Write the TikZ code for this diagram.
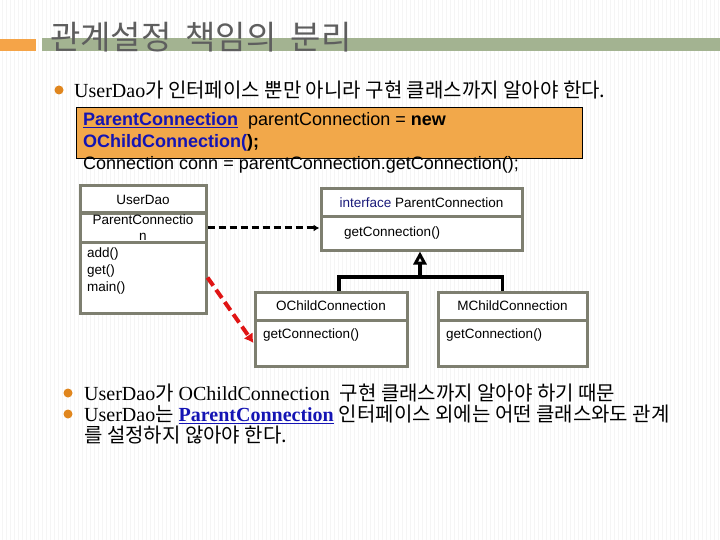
\documentclass[tikz,border=0pt]{standalone}
\usepackage{fontspec}
\setmainfont{Liberation Serif}
\newfontfamily\kr{Noto Sans CJK KR}
\newfontfamily\arial{Liberation Sans}
\usetikzlibrary{arrows.meta}
\definecolor{barorange}{HTML}{F5A448}
\definecolor{bargreen}{HTML}{A3B391}
\definecolor{boxorange}{HTML}{F2A84A}
\definecolor{dotorange}{HTML}{E0861E}
\definecolor{umlgray}{HTML}{7E7F70}
\definecolor{navy}{HTML}{1A1A7A}
\definecolor{linkblue}{HTML}{1414B4}
\definecolor{titlegray}{HTML}{5E5E5E}
\definecolor{userred}{HTML}{E01414}
\tikzset{
  umlbox/.style={draw=umlgray, line width=3pt, fill=white, inner sep=0pt, font=\arial\fontsize{13.5}{16}\selectfont},
  umltext/.style={font=\arial\fontsize{13.5}{17}\selectfont, inner sep=0pt},
  bullettext/.style={font=\fontsize{20}{21}\selectfont, anchor=west, inner sep=0pt},
  codetext/.style={font=\arial\fontsize{18}{21}\selectfont, anchor=base west, inner sep=0pt},
  bulletdot/.style={circle, fill=dotorange, minimum size=9pt, inner sep=0pt},
  deparrow/.style={line width=3pt, dash pattern=on 7pt off 4pt, -{Latex[length=6pt,width=7pt]}},
  usearrow/.style={userred, line width=4pt, dash pattern=on 10pt off 5pt, -{Latex[length=9pt,width=11pt]}},
  genline/.style={line width=3.5pt},
}
\begin{document}
\begin{tikzpicture}[x=1pt,y=-1pt]
\useasboundingbox (0,0) rectangle (720,540);
\fill[white] (0,0) rectangle (720,540);
\foreach \i in {2,6,...,718} \draw[gray!8, line width=1pt] (\i,0) -- (\i,540);
\fill[barorange] (0,39) rectangle (36,51);
\fill[bargreen] (42,38) rectangle (720,51);
\node[anchor=west, text=titlegray, font=\kr\fontsize{33}{33}\selectfont, inner sep=0pt] (title) at (50,37) {관계설정\hspace{14pt}책임의\hspace{14pt}분리};

\node[bulletdot] (b1) at (59,90) {};
\node[bullettext] (t1) at (74,90) {UserDao{\kr 가 인터페이스 뿐만 아니라 구현 클래스까지 알아야 한다.}};

\node[draw=black, fill=boxorange, minimum width=506pt, minimum height=51pt, inner sep=0pt, line width=0.8pt] (code) at (329,132.5) {};
\node[codetext] (c1) at (83,126) {\textbf{\textcolor{linkblue}{\underline{ParentConnection}}}\ \ parentConnection = \textbf{new}};
\node[codetext] (c2) at (83,148) {\textbf{\textcolor{linkblue}{OChildConnection(});}};
\node[codetext] (c3) at (83,170) {Connection conn = parentConnection.getConnection();};

\node[umlbox, minimum width=126pt, minimum height=27pt] (daoname) at (143,199.5) {UserDao};
\node[umlbox, minimum width=126pt, minimum height=29pt, align=center] (daoattr) at (143,228) {ParentConnectio\\n};
\node[umlbox, minimum width=126pt, minimum height=71pt] (daoops) at (143,277.5) {};
\node[umltext, anchor=north west, align=left] (daoopstext) at (87,248) {add()\\get()\\main()};

\node[umlbox, minimum width=201pt, minimum height=28pt] (iface) at (421.5,203) {\textcolor{navy}{interface} ParentConnection};
\node[umlbox, minimum width=201pt, minimum height=33pt] (ifaceops) at (421.5,233.5) {};
\node[umltext, anchor=west] (ifaceopstext) at (344,233) {getConnection()};

\node[umlbox, minimum width=152pt, minimum height=28pt] (ochildname) at (331,306) {OChildConnection};
\node[umlbox, minimum width=152pt, minimum height=46pt] (ochildops) at (331,343) {};
\node[umltext, anchor=west] (ochildopstext) at (263,335) {getConnection()};

\node[umlbox, minimum width=149pt, minimum height=28pt] (mchildname) at (512.5,306) {MChildConnection};
\node[umlbox, minimum width=149pt, minimum height=46pt] (mchildops) at (512.5,343) {};
\node[umltext, anchor=west] (mchildopstext) at (446,335) {getConnection()};

\draw[deparrow] (daoattr.east) -- (daoattr.east -| ifaceops.west);
\draw[usearrow] (daoops.east) -- (ochildops.west);
\coordinate (bar) at (420,277);
\draw[genline] ([xshift=8pt]ochildname.north) |- (bar) -| ([xshift=-10pt]mchildname.north);
\draw[genline, -{Triangle[open, fill=white, length=13pt, width=13pt, line width=3pt]}] (bar) -- (ifaceops.south -| bar);

\node[bulletdot] (b2) at (68,393) {};
\node[bullettext] (t2) at (84,393) {UserDao{\kr 가} OChildConnection\ \ {\kr 구현 클래스까지 알아야 하기 때문}};
\node[bulletdot] (b3) at (68,414) {};
\node[bullettext] (t3) at (84,414) {UserDao{\kr 는} \textbf{\textcolor{linkblue}{\underline{ParentConnection}}} {\kr 인터페이스 외에는 어떤 클래스와도 관계}};
\node[bullettext] (t3b) at (84,435) {\kr 를 설정하지 않아야 한다.};
\end{tikzpicture}
\end{document}
